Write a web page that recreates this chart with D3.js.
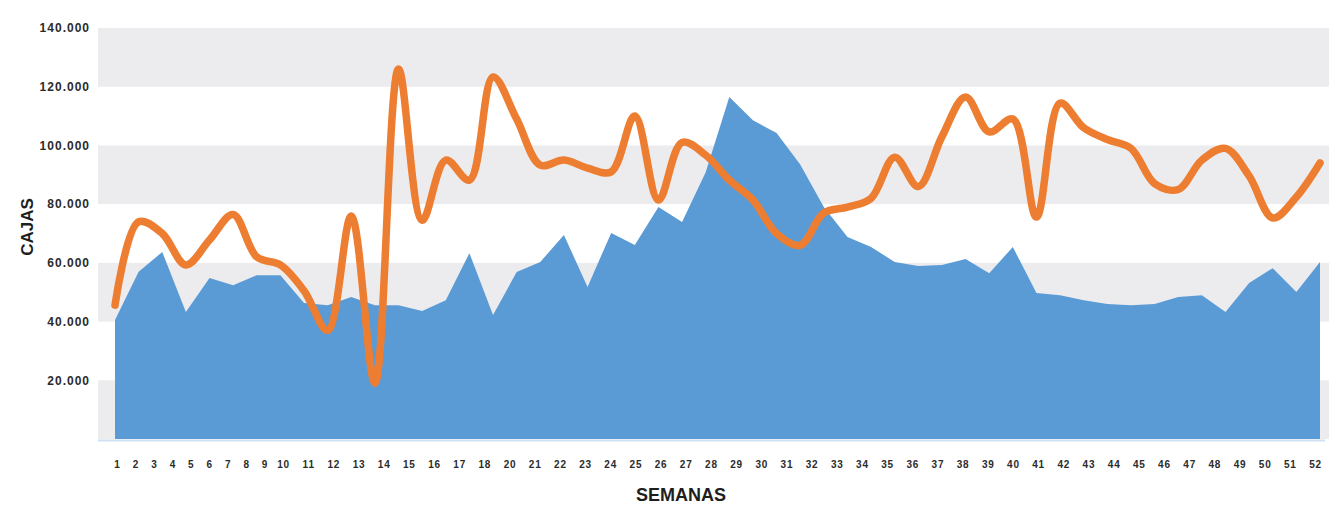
<!DOCTYPE html>
<html>
<head>
<meta charset="utf-8">
<script src="https://cdn.jsdelivr.net/npm/d3@7"></script>
<style>
  html, body { margin: 0; padding: 0; background: #ffffff; }
  svg { display: block; }
  text { font-family: "Liberation Sans", Arial, Helvetica, sans-serif; }
</style>
</head>
<body>
<svg id="chart" width="1329" height="506"></svg>
<script>
// Weeks of the year
const weeks = [1,2,3,4,5,6,7,8,9,10,11,12,13,14,15,16,17,18,19,20,21,22,23,24,25,26,
               27,28,29,30,31,32,33,34,35,36,37,38,39,40,41,42,43,44,45,46,47,48,49,50,51,52];

// Boxes per week, filled series
const boxesArea = [40500, 57000, 63700, 43300, 54800, 52400, 55800, 55800, 46300, 45600,
                   48400, 45600, 45600, 43600, 47300, 63300, 42200, 56900, 60300, 69500,
                   51800, 70200, 66100, 79000, 73900, 90900, 116500, 108600, 104200, 93500,
                   79000, 68800, 65400, 60300, 58900, 59300, 61300, 56500, 65400, 49700,
                   49000, 47300, 46000, 45600, 46000, 48400, 49000, 43300, 53100, 58200,
                   50100, 60300];

// Boxes per week, line series
const boxesLine = [45600, 74000, 70000, 59300, 67800, 76500, 62000, 59300, 50500, 37000,
                   76000, 19000, 126000, 74500, 95000, 88200, 123300, 109000, 93300, 95000,
                   92300, 91000, 110000, 81400, 101000, 96700, 88200, 81400, 70000, 66000,
                   77000, 79000, 82000, 96000, 86000, 103000, 116500, 104600, 109000, 75600,
                   114400, 106000, 102000, 99000, 87000, 85000, 95000, 99000, 89600, 75300,
                   82400, 94000];

// Week labels printed under the axis
const weekLabels = ["1","2","3","4","5","6","7","8","9","10","11","12","13","14","15","16","17","18",
                    "20","21","22","23","24","25","26","27","28","29","30","31","32","33","34","35",
                    "36","37","38","39","40","41","42","43","44","45","46","47","48","49","50","51","52"];

// Value axis ticks
const yTicks = [20000, 40000, 60000, 80000, 100000, 120000, 140000];

const svg = d3.select("#chart");

const plotLeft = 98, plotRight = 1329;
const x = d3.scaleLinear().domain([1, 52]).range([115, 1320]);
const y = d3.scaleLinear().domain([0, 140000]).range([439, 28]);
// label axis: first ten labels sit tighter than the rest
const xLabel = d3.scaleLinear().domain([0, 9, weekLabels.length - 1]).range([117, 283, 1315]);

const fmt = d3.formatLocale({ decimal: ",", thousands: ".", grouping: [3], currency: ["", ""] }).format(",");

// alternating horizontal bands
const bands = d3.range(0, 140000, 40000);
svg.append("g").selectAll("rect")
  .data(bands)
  .join("rect")
  .attr("x", plotLeft)
  .attr("width", plotRight - plotLeft)
  .attr("y", d => y(d + 20000))
  .attr("height", d => y(d) - y(d + 20000))
  .attr("fill", "#ececef");

// filled series
const area = d3.area()
  .x((d, i) => x(weeks[i]))
  .y0(y(0))
  .y1(d => y(d))
  .curve(d3.curveLinear);

svg.append("path")
  .datum(boxesArea)
  .attr("d", area)
  .attr("fill", "#5b9bd5");

// baseline
svg.append("line")
  .attr("x1", plotLeft).attr("x2", plotRight - 4)
  .attr("y1", y(0) + 1.5).attr("y2", y(0) + 1.5)
  .attr("stroke", "#cfe2f3").attr("stroke-width", 2);

// smooth line series
const line = d3.line()
  .x((d, i) => x(weeks[i]))
  .y(d => y(d))
  .curve(d3.curveCatmullRom.alpha(0.5));

svg.append("path")
  .datum(boxesLine)
  .attr("d", line)
  .attr("fill", "none")
  .attr("stroke", "#ed7d31")
  .attr("stroke-width", 7.5)
  .attr("stroke-linejoin", "round")
  .attr("stroke-linecap", "round");

// value axis
const yAxis = svg.append("g")
  .attr("transform", `translate(${plotLeft},0)`)
  .call(d3.axisLeft(y).tickValues(yTicks).tickFormat(fmt).tickSize(0).tickPadding(8));
yAxis.select(".domain").remove();
yAxis.selectAll("text")
  .attr("font-family", "'Liberation Sans', Arial, sans-serif")
  .attr("font-size", 12)
  .attr("font-weight", "bold")
  .attr("letter-spacing", 1)
  .attr("fill", "#2b2b2b");

// week labels
const xAxis = svg.append("g")
  .attr("transform", "translate(0,461)")
  .call(d3.axisBottom(xLabel)
    .tickValues(d3.range(weekLabels.length))
    .tickFormat(i => weekLabels[i])
    .tickSize(0).tickPadding(0));
xAxis.select(".domain").remove();
xAxis.selectAll("text")
  .attr("font-family", "'Liberation Sans', Arial, sans-serif")
  .attr("font-size", 10)
  .attr("font-weight", "bold")
  .attr("letter-spacing", 0.8)
  .attr("fill", "#2b2b2b");

// axis titles
svg.append("text")
  .attr("transform", "translate(33,227) rotate(-90)")
  .attr("text-anchor", "middle")
  .attr("font-size", 17)
  .attr("font-weight", "bold")
  .attr("fill", "#1e1e1e")
  .text("CAJAS");

svg.append("text")
  .attr("x", 681)
  .attr("y", 501)
  .attr("text-anchor", "middle")
  .attr("font-size", 18)
  .attr("font-weight", "bold")
  .attr("fill", "#1e1e1e")
  .text("SEMANAS");
</script>
</body>
</html>
